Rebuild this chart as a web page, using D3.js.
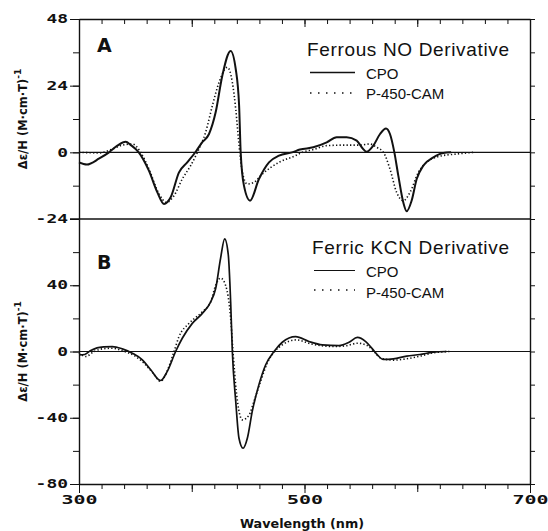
<!DOCTYPE html>
<html>
<head>
<meta charset="utf-8">
<script src="https://cdn.jsdelivr.net/npm/d3@7"></script>
<style>
  body { margin: 0; background: #fff; }
  svg { display: block; }
  .tick line { stroke: #111; }
  .domain { stroke: #111; }
</style>
</head>
<body>
<svg id="chart" width="548" height="531"></svg>
<script>
// [wavelength nm, Δε/H]
const ferrousCpo = [[300,-3.6],[307,-4.4],[318,-2.2],[326.6,0],[334,2.4],[341.4,3.8],[346,2.6],[353,0],[362,-6.6],[369.5,-14.4],[375.4,-18.6],[381.3,-16.2],[388.7,-7.2],[396,-3.6],[403.5,0.2],[409,3.5],[415.3,6.6],[421.2,14.4],[427.1,27.6],[434.5,36.5],[439,30],[442,16.8],[443.4,0],[446.3,-12],[451.7,-17.4],[459.6,-9.6],[468.5,-3.6],[477.4,-1.2],[489,0],[496,1.0],[507.8,1.8],[519.7,3.6],[528.5,5.4],[537.4,5.4],[546.3,4.2],[552,1.2],[555,0.2],[561,2.4],[567,6.6],[572.3,8.6],[575.8,6.6],[579.7,0],[583.2,-8.4],[587.6,-18],[590.6,-21.2],[595,-17.4],[599.5,-9.6],[605.4,-4.8],[614.3,-1.8],[623,-0.2],[630,0]];
const ferrousP450 = [[300,0],[318,-0.2],[329.6,1.2],[338.4,2.6],[347.3,3.0],[354.7,0],[362,-6],[371,-15],[377.5,-18],[384.3,-15.6],[391.6,-9.6],[399,-4.8],[405,0],[412.3,7.2],[418.3,16.8],[424.2,25.2],[431.6,30.6],[436,25.2],[439,15.6],[442,2.4],[444.9,-7.2],[449.3,-11.4],[455.2,-10.8],[462.6,-7.8],[477.4,-3.6],[492,-1.2],[498,0],[507.8,1.0],[519.7,2.4],[534.4,2.6],[549.2,2.6],[558,3.0],[564,1.8],[570,0],[575.8,-6],[581.7,-14.4],[587.6,-17.4],[593.6,-14.4],[601,-7.2],[608.3,-3.6],[620,-1.4],[635,-0.6],[650,0]];
const ferricCpo = [[300,-2.0],[305,-1.8],[310,0.4],[316,2.2],[322,2.8],[329.6,3.0],[338.4,1.6],[347.3,-1.0],[356.2,-5.0],[363.6,-11],[372.4,-17.5],[378.3,-12],[385.7,0],[391.6,8],[400.5,17],[409.4,23],[416.8,30],[421.2,38],[425.6,56.4],[429.2,68],[432.4,58.4],[434.5,30],[436,0],[439,-30],[441.9,-52.4],[445.5,-58.4],[449.3,-52.4],[453.7,-36],[459.6,-20],[465.6,-8],[473,0],[480.3,5.6],[492.2,9],[504,6],[515.8,4],[530.6,3.6],[539.5,5.6],[546.9,8.5],[554.3,6],[560.2,1.6],[564.6,-2],[569.9,-4.8],[578.8,-4.4],[590.6,-2.8],[602.4,-1.8],[614.3,-0.4],[626,0]];
const ferricP450 = [[300,-1],[306,-3],[313.3,0],[320.7,1.6],[329.6,2.0],[338.4,0.4],[348.8,-2.4],[357.6,-7],[365,-12.5],[372.4,-18],[378.3,-11.6],[384.3,0],[388.7,9],[397.6,17],[409.4,24],[416.8,30],[421.2,40],[425.6,44.3],[430,40],[434.5,20],[436.6,0],[439.5,-24],[444.9,-41.3],[450.8,-38.4],[455.2,-30],[461.1,-18],[467,-7],[473,-0.4],[480.3,4],[492.2,7],[507,4.4],[524.7,3],[536.5,3.4],[546.9,5],[555.7,3.6],[563.1,-1],[567,-3.8],[578.8,-5.2],[590.6,-4.4],[602.4,-2.8],[614.3,-0.8],[629,0]];

const xTickLabels = [300, 500, 700];
const yTickLabelsA = [48, 24, 0, -24];
const yTickLabelsB = [40, 0, -40, -80];
const titles = ["Ferrous NO Derivative", "Ferric KCN Derivative"];
const panelLetters = ["A", "B"];
const seriesNames = ["CPO", "P-450-CAM"];

const svg = d3.select("#chart");
const plotLeft = 79, plotRight = 530, plotTop = 19, plotMid = 219, plotBottom = 484;

const x = d3.scaleLinear().domain([300, 700]).range([plotLeft, plotRight]);
const yA = d3.scaleLinear().domain([-24, 48]).range([plotMid, plotTop]);
const yB = d3.scaleLinear().domain([-80, 80]).range([plotBottom, plotMid]);

const plotFont = "DejaVu Sans Mono";

// stretched plotter-style tick labels
function styleLabels(sel, charW) {
  sel.selectAll("text")
    .style("font-family", plotFont)
    .style("font-size", "11.5px")
    .style("font-weight", "bold")
    .attr("fill", "#111")
    .attr("textLength", function() { return this.textContent.length * charW; })
    .attr("lengthAdjust", "spacingAndGlyphs");
}

function drawPanel(y, minorStep, labels) {
  const minor = d3.range(y.domain()[0], y.domain()[1] + 0.1, minorStep);
  svg.append("g").attr("transform", `translate(${plotLeft},0)`)
    .call(d3.axisLeft(y).tickValues(minor).tickSize(6).tickSizeOuter(0).tickFormat(""))
    .call(g => g.select(".domain").attr("stroke-width", 1.4));
  svg.append("g").attr("transform", `translate(${plotLeft},0)`)
    .call(d3.axisLeft(y).tickValues(labels).tickSize(9).tickPadding(2).tickFormat(d => String(d)))
    .call(g => g.select(".domain").remove())
    .call(g => styleLabels(g, 10.8));
  svg.append("g").attr("transform", `translate(${plotRight},0)`)
    .call(d3.axisRight(y).tickValues(minor).tickSize(5).tickSizeOuter(0).tickFormat(""))
    .call(g => g.select(".domain").attr("stroke-width", 1.4));
  // zero line
  svg.append("line")
    .attr("x1", plotLeft).attr("x2", plotRight)
    .attr("y1", y(0)).attr("y2", y(0))
    .attr("stroke", "#111").attr("stroke-width", 1.1);
}

drawPanel(yA, 12, yTickLabelsA);
drawPanel(yB, 20, yTickLabelsB);

// horizontal frame lines
const minorX = d3.range(300, 701, 20);
svg.append("g").attr("transform", `translate(0,${plotTop})`)
  .call(d3.axisTop(x).tickValues(minorX).tickSize(-5).tickSizeOuter(0).tickFormat(""))
  .call(g => g.select(".domain").attr("stroke-width", 1.4));
svg.append("g").attr("transform", `translate(0,${plotTop})`)
  .call(d3.axisTop(x).tickValues([400, 500, 600]).tickSize(-8).tickFormat(""))
  .call(g => g.select(".domain").remove());
svg.append("line")
  .attr("x1", plotLeft - 9).attr("x2", plotRight)
  .attr("y1", plotMid).attr("y2", plotMid)
  .attr("stroke", "#111").attr("stroke-width", 1.4);
svg.append("g").attr("transform", `translate(0,${plotBottom})`)
  .call(d3.axisBottom(x).tickValues(minorX).tickSize(5).tickSizeOuter(0).tickFormat(""))
  .call(g => g.select(".domain").attr("stroke-width", 1.4));
svg.append("g").attr("transform", `translate(0,${plotBottom})`)
  .call(d3.axisBottom(x).tickValues([400, 600]).tickSize(8).tickFormat(""))
  .call(g => g.select(".domain").remove());
svg.append("g").attr("transform", `translate(0,${plotBottom})`)
  .call(d3.axisBottom(x).tickValues(xTickLabels).tickSize(9).tickPadding(3).tickFormat(d => String(d)))
  .call(g => g.select(".domain").remove())
  .call(g => styleLabels(g, 12));

// curves
const line = (y) => d3.line().x(d => x(d[0])).y(d => y(d[1])).curve(d3.curveMonotoneX);

svg.append("path").datum(ferrousP450)
  .attr("d", line(yA)).attr("fill", "none").attr("stroke", "#111")
  .attr("stroke-width", 1.6).attr("stroke-dasharray", "1.3,2.2");
svg.append("path").datum(ferrousCpo)
  .attr("d", line(yA)).attr("fill", "none").attr("stroke", "#111")
  .attr("stroke-width", 2);
svg.append("path").datum(ferricP450)
  .attr("d", line(yB)).attr("fill", "none").attr("stroke", "#111")
  .attr("stroke-width", 1.6).attr("stroke-dasharray", "1.3,2.2");
svg.append("path").datum(ferricCpo)
  .attr("d", line(yB)).attr("fill", "none").attr("stroke", "#111")
  .attr("stroke-width", 1.7);

// panel titles & legends
const panels = [
  { y: yA, letterY: 52, titleY: 56, lineY: [72.5, 93], textY: [78.5, 98.5], titleX: 307, lineX: [310, 355], solidW: 1.6 },
  { y: yB, letterY: 269, titleY: 254, lineY: [270.5, 290], textY: [277, 297.5], titleX: 312, lineX: [314, 355], solidW: 1.1 }
];

panels.forEach((p, i) => {
  svg.append("text")
    .attr("x", 97).attr("y", p.letterY)
    .style("font-family", "DejaVu Sans").style("font-weight", "900")
    .style("font-size", "19px").attr("fill", "#111")
    .text(panelLetters[i]);
  svg.append("text")
    .attr("x", p.titleX).attr("y", p.titleY)
    .style("font-family", "Liberation Sans").style("font-size", "19px")
    .attr("fill", "#111")
    .attr("textLength", i === 0 ? 202 : 197).attr("lengthAdjust", "spacing")
    .text(titles[i]);
  svg.append("line")
    .attr("x1", p.lineX[0]).attr("x2", p.lineX[1])
    .attr("y1", p.lineY[0]).attr("y2", p.lineY[0])
    .attr("stroke", "#111").attr("stroke-width", p.solidW);
  svg.append("line")
    .attr("x1", p.lineX[0]).attr("x2", p.lineX[1])
    .attr("y1", p.lineY[1]).attr("y2", p.lineY[1])
    .attr("stroke", "#111").attr("stroke-width", 1.6).attr("stroke-dasharray", "1.5,6.5");
  seriesNames.forEach((name, j) => {
    svg.append("text")
      .attr("x", 366).attr("y", p.textY[j])
      .style("font-family", "Liberation Sans").style("font-size", "15px")
      .attr("fill", "#111")
      .text(name);
  });

  // y-axis title, rotated
  const cy = (p.y.range()[0] + p.y.range()[1]) / 2;
  const t = svg.append("text")
    .attr("transform", `translate(27,${cy}) rotate(-90)`)
    .attr("text-anchor", "middle")
    .style("font-family", "DejaVu Sans").style("font-weight", "bold")
    .style("font-size", "11.5px").attr("fill", "#111");
  t.append("tspan").text("\u0394\u03b5/H  (M\u00b7cm\u00b7T)");
  t.append("tspan").attr("dy", -6).style("font-size", "9px").text("-1");
});

// x-axis title
svg.append("text")
  .attr("x", 302).attr("y", 528)
  .attr("text-anchor", "middle")
  .style("font-family", "DejaVu Sans").style("font-weight", "bold")
  .style("font-size", "12px").attr("fill", "#111")
  .attr("textLength", 124).attr("lengthAdjust", "spacingAndGlyphs")
  .text("Wavelength (nm)");
</script>
</body>
</html>
